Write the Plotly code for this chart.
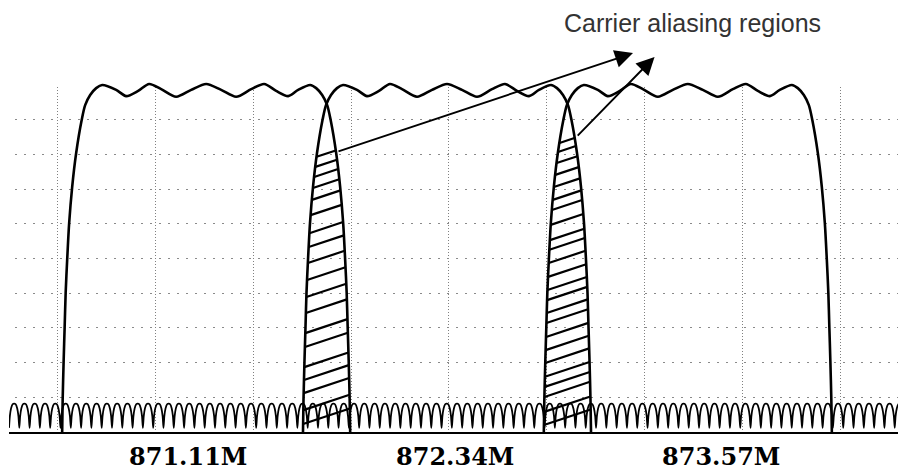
import numpy as np
import plotly.graph_objects as go

# ---------------- data ----------------
CARRIER_CENTERS_MHZ = [871.11, 872.34, 873.57]
TICK_LABELS = ["871.11M", "872.34M", "873.57M"]

# one carrier spectrum (offset from centre in MHz, level in grid divisions above the floor line)
PROFILE_OFFSET_MHZ = [-0.7355, -0.7329, -0.7278, -0.7227, -0.7176, -0.7099, -0.6997, -0.6844,
                      -0.6639, -0.6358, -0.6180, -0.5924, -0.5618, -0.5312, -0.4597, -0.4086,
                      -0.3473, -0.2911, -0.2298, -0.1532, -0.0766, 0.0, 0.0766, 0.1532, 0.2298,
                      0.2962, 0.3575, 0.4188, 0.4699, 0.5312, 0.5618, 0.5924, 0.6180, 0.6358,
                      0.6639, 0.6844, 0.6997, 0.7099, 0.7176, 0.7227, 0.7278, 0.7329, 0.7355]
PROFILE_LEVEL = [0.0, 0.92, 2.07, 3.03, 4.01, 4.96, 6.02, 7.06, 8.04, 8.99, 9.42, 9.71, 9.91,
                 10.0, 9.86, 9.68, 9.83, 10.03, 9.88, 9.66, 9.86, 10.03, 9.86, 9.66, 9.88, 10.03,
                 9.83, 9.68, 9.86, 10.0, 9.91, 9.71, 9.42, 8.99, 8.04, 7.06, 6.02, 4.96, 4.01,
                 3.03, 2.07, 0.92, 0.0]

# hatch lines inside the two overlap (aliasing) regions: level of each line's left end
HATCH_LEVELS_1 = [0.23, 0.63, 1.12, 1.50, 1.87, 2.45, 2.85, 3.43, 3.89, 4.38, 4.87, 5.33,
                  5.73, 6.25, 6.69, 7.03, 7.35, 7.64, 7.93]
HATCH_LEVELS_2 = [0.20, 0.58, 1.01, 1.30, 1.59, 1.99, 2.36, 2.74, 3.14, 3.43, 3.80, 4.09,
                  4.47, 4.87, 5.25, 5.53, 5.97, 6.40, 6.69, 7.06, 7.41, 7.75, 8.07, 8.33]
HATCH_SLOPE = 1.87  # levels per MHz

# noise floor: one arch (fraction of period, level), repeated along the floor
NOISE_PERIOD_MHZ = 0.0526
NOISE_ARCH_PHASE = [0.0, 0.08, 0.2, 0.35, 0.5, 0.65, 0.8, 0.92]
NOISE_ARCH_LEVEL = [0.12, 0.45, 0.68, 0.80, 0.82, 0.80, 0.68, 0.45]

# arrows (tail -> head) and caption
ARROW_TAIL_MHZ = [871.778, 873.00]
ARROW_TAIL_LEVEL = [8.07, 8.50]
ARROW_HEAD_MHZ = [873.29, 873.40]
ARROW_HEAD_LEVEL = [10.92, 10.81]
CAPTION = "Carrier aliasing regions"
CAPTION_MHZ = 873.596
CAPTION_LEVEL = 11.79

# ---------------- layout calibration ----------------
W, H = 898, 472
ML, MB = 9, 40
PX_PER_MHZ = 195.8
REF_PX, REF_MHZ = 447, 872.34
PX_PER_LEVEL = 34.7
PLOT_H = H - MB


def f_of_px(p):
    return REF_MHZ + (p - REF_PX) / PX_PER_MHZ


fig = go.Figure()

# grid-only subplot (empty trace so its axes and grid are drawn)
fig.add_trace(go.Scatter(x=[], y=[], xaxis="x", yaxis="y", hoverinfo="skip", showlegend=False))

# carriers
for c in CARRIER_CENTERS_MHZ:
    fig.add_trace(go.Scatter(
        x=[c + o for o in PROFILE_OFFSET_MHZ], y=PROFILE_LEVEL,
        mode="lines", line=dict(color="black", width=2.6, shape="spline", smoothing=0.8),
        xaxis="x2", yaxis="y2", hoverinfo="skip", showlegend=False))

# hatch lines
edge_level = np.array(PROFILE_LEVEL[-11:][::-1])
edge_off = np.array(PROFILE_OFFSET_MHZ[-11:][::-1])


def off(l):
    return float(np.interp(l, edge_level, edge_off))


hx, hy = [], []
for (c_left, c_right), levels in [((CARRIER_CENTERS_MHZ[0], CARRIER_CENTERS_MHZ[1]), HATCH_LEVELS_1),
                                   ((CARRIER_CENTERS_MHZ[1], CARRIER_CENTERS_MHZ[2]), HATCH_LEVELS_2)]:
    for l0 in levels:
        xl = c_right - off(l0)
        xr = c_left + off(l0)
        for _ in range(6):
            xr = c_left + off(l0 + HATCH_SLOPE * (xr - xl))
        hx += [xl, xr, None]
        hy += [l0, l0 + HATCH_SLOPE * (xr - xl), None]
fig.add_trace(go.Scatter(x=hx, y=hy, mode="lines", line=dict(color="black", width=2.2),
                         xaxis="x2", yaxis="y2", hoverinfo="skip", showlegend=False))

# noise floor
x0, x1 = f_of_px(ML), f_of_px(W)
nx, ny = [], []
k = 0
while x0 + k * NOISE_PERIOD_MHZ < x1:
    for ph, lv in zip(NOISE_ARCH_PHASE, NOISE_ARCH_LEVEL):
        nx.append(x0 + (k + ph) * NOISE_PERIOD_MHZ)
        ny.append(lv)
    k += 1
fig.add_trace(go.Scatter(x=nx, y=ny, mode="lines",
                         line=dict(color="black", width=1.8, shape="spline", smoothing=0.6),
                         xaxis="x2", yaxis="y2", hoverinfo="skip", showlegend=False))

annotations = []
for tx, ty, hxm, hyl in zip(ARROW_TAIL_MHZ, ARROW_TAIL_LEVEL, ARROW_HEAD_MHZ, ARROW_HEAD_LEVEL):
    annotations.append(dict(x=hxm, y=hyl, ax=tx, ay=ty, xref="x2", yref="y2", axref="x2", ayref="y2",
                            text="", showarrow=True, arrowhead=2, arrowsize=1.9, arrowwidth=1.9,
                            arrowcolor="black"))
annotations.append(dict(x=CAPTION_MHZ, y=CAPTION_LEVEL, xref="x2", yref="y2", text=CAPTION,
                        showarrow=False, font=dict(family="Liberation Sans", size=25, color="#333")))
LABEL_SHIFT_PX = [-18, 8, 33]
for c, t, s in zip(CARRIER_CENTERS_MHZ, TICK_LABELS, LABEL_SHIFT_PX):
    annotations.append(dict(x=c, y=-24 / PLOT_H, xref="x2", yref="paper", yanchor="middle",
                            text=t, showarrow=False, xshift=s,
                            font=dict(family="DejaVu Serif", size=24, color="black", weight="bold")))

grid_top_px = 87
fig.update_layout(
    width=W, height=H,
    margin=dict(l=ML, r=0, t=0, b=MB),
    paper_bgcolor="white", plot_bgcolor="rgba(0,0,0,0)",
    showlegend=False,
    annotations=annotations,
    xaxis=dict(domain=[(15 - ML) / (W - ML), 1], range=[f_of_px(15), f_of_px(W)],
               tick0=872.35, dtick=0.5, showgrid=True, gridcolor="#808080", gridwidth=1,
               griddash="1px,2px", showticklabels=False, ticks="", zeroline=False,
               showline=False, anchor="y"),
    yaxis=dict(domain=[0, (PLOT_H - grid_top_px) / PLOT_H],
               range=[0, (PLOT_H - grid_top_px) / PX_PER_LEVEL], tick0=0, dtick=1,
               showgrid=True, gridcolor="#8a8a8a", gridwidth=1, griddash="2px,7px",
               showticklabels=False, ticks="", zeroline=False, showline=False, anchor="x"),
    xaxis2=dict(domain=[0, 1], range=[x0, x1], showgrid=False, zeroline=False,
                showticklabels=False, ticks="", showline=True, linecolor="black", linewidth=2,
                anchor="y2"),
    yaxis2=dict(domain=[0, 1], range=[0, PLOT_H / PX_PER_LEVEL], showgrid=False, zeroline=False,
                showticklabels=False, ticks="", showline=False, anchor="x2"),
)

fig.write_html("out.html", config={"displayModeBar": False},
               post_script="document.body.style.margin='0px';")
